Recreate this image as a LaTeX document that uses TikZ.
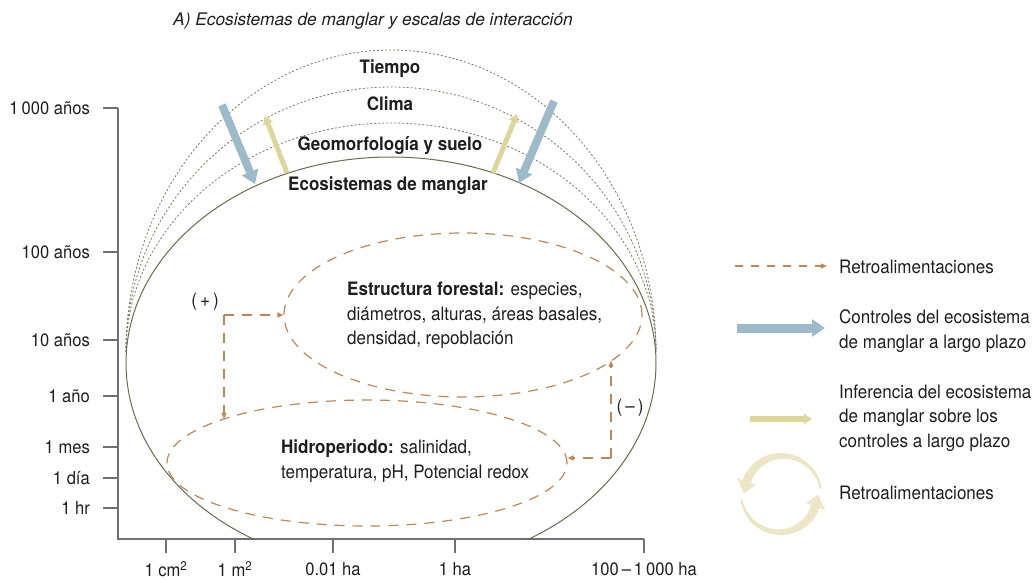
\documentclass[tikz,border=0pt]{standalone}
\usepackage{fontspec}
\setmainfont{TeX Gyre Heros}
\newfontfamily\cnd[FakeStretch=0.92]{TeX Gyre Heros}
\usetikzlibrary{arrows.meta,shapes.geometric}
\definecolor{axisgray}{HTML}{707070}
\definecolor{olivec}{HTML}{6B6B4E}
\definecolor{dotc}{HTML}{7A7A60}
\definecolor{dashbrown}{HTML}{B8895A}
\definecolor{ctrlblue}{HTML}{9CBAC8}
\definecolor{infkhaki}{HTML}{DDD69B}
\definecolor{iconcol}{HTML}{ECE6C6}
\definecolor{txt}{HTML}{1E1E1E}
\tikzset{
  lbl/.style={font=\cnd\fontsize{18.5}{24.5}\selectfont, text=txt, inner sep=0pt},
  bl/.style={font=\cnd\bfseries\fontsize{18.5}{24.5}\selectfont, text=txt, inner sep=0pt},
  axl/.style={font=\cnd\fontsize{18}{22}\selectfont, text=txt, inner sep=0pt},
  axisline/.style={draw=axisgray, line width=1.4pt},
  dotarc/.style={draw=dotc, line width=0.8pt, dash pattern=on 2pt off 2pt},
  fbell/.style={ellipse, draw=dashbrown, line width=1.2pt, dash pattern=on 10pt off 8pt, inner sep=0pt},
  fbarrow/.style={draw=dashbrown, line width=1.2pt, dash pattern=on 10pt off 8pt, -{Triangle[width=5pt,length=6pt]}},
  ctrl/.style={draw=ctrlblue, line width=8pt, -{Triangle[width=17pt,length=13pt]}},
  inf/.style={draw=infkhaki, line width=5pt, -{Triangle[width=10pt,length=8pt]}},
}
\begin{document}
\begin{tikzpicture}[x=1pt,y=-1pt]
\useasboundingbox (0,0) rectangle (1034,579);
% title
\node[font=\itshape\fontsize{17.3}{20}\selectfont, text=txt, inner sep=0pt] (title) at (373,21) {A) Ecosistemas de manglar y escalas de interacción};
% axes
\draw[axisline] (118,108) -- (118,539) -- (644,539);
\foreach \y/\t [count=\i] in {108/1\,000 años, 252/100 años, 340/10 años, 396/1 año, 447/1 mes, 478/1 día, 508/1 hr}{
  \draw[axisline] (103,\y) -- (118,\y);
  \node[axl, anchor=east] (ty\i) at (90,\y) {\t};
}
\foreach \x/\t [count=\i] in {166/1 cm\textsuperscript{2}, 235/1 m\textsuperscript{2}, 333/0.01 ha, 455/1 ha, 644/100\,–\,1\,000 ha}{
  \draw[axisline] (\x,539) -- (\x,553);
  \node[axl] (tx\i) at (\x,569) {\t};
}
% dotted arcs
\draw[dotarc] (126,352) arc[start angle=180, end angle=0, x radius=265pt, y radius=302pt];
\draw[dotarc] (126,352) arc[start angle=180, end angle=0, x radius=265pt, y radius=265pt];
\draw[dotarc] (126,352) arc[start angle=180, end angle=0, x radius=265pt, y radius=229pt];
% solid ellipse
\begin{scope}
\clip (0,0) rectangle (1034,539);
\draw[olivec, line width=1pt] (391,363) ellipse [x radius=265pt, y radius=206pt];
\end{scope}
% level labels
\node[bl] (tiempo) at (390,69) {Tiempo};
\node[bl] (clima) at (390,104) {Clima};
\node[bl] (geo) at (390,146) {Geomorfología y suelo};
\node[bl] (eco) at (388,186) {Ecosistemas de manglar};
% control / inference arrows
\coordinate (b1s) at (222,105); \coordinate (b1e) at (255,184);
\coordinate (b2s) at (554,101); \coordinate (b2e) at (519,183);
\coordinate (k1s) at (287,173); \coordinate (k1e) at (265,116);
\coordinate (k2s) at (493,173); \coordinate (k2e) at (517,114);
\draw[ctrl] (b1s) -- (b1e);
\draw[ctrl] (b2s) -- (b2e);
\draw[inf] (k1s) -- (k1e);
\draw[inf] (k2s) -- (k2e);
% feedback ellipses
\node[fbell, minimum width=358pt, minimum height=164pt] (forest) at (463,315) {};
\node[fbell, minimum width=400pt, minimum height=126pt] (hydro) at (367,463) {};
\node[lbl, anchor=west, align=left] (forestt) at (347,315.5) {\textbf{Estructura forestal:} especies,\\diámetros, alturas, áreas basales,\\densidad, repoblación};
\node[lbl, anchor=west, align=left] (hydrot) at (281,461) {\textbf{Hidroperiodo:} salinidad,\\temperatura, pH, Potencial redox};
% feedback connectors
\coordinate (pc) at (224,315);
\coordinate (mc) at (611,458);
\node[lbl] (plus) at (205,302) {(\,+\,)};
\node[lbl] (minus) at (630,408) {(\,–\,)};
\draw[fbarrow] (pc) -- (forest.west);
\draw[fbarrow] (pc) -- (pc |- hydro.163);
\draw[fbarrow] (mc) -- (hydro.east |- mc);
\draw[fbarrow] (mc) -- (mc |- forest.-17);
% legend
\coordinate (l1s) at (735,266); \coordinate (l1e) at (827,266);
\draw[draw=dashbrown, line width=1.2pt, dash pattern=on 8pt off 8pt, -{Triangle[width=5pt,length=6pt]}] (l1s) -- (l1e);
\node[lbl, anchor=west] (leg1) at (839,267) {Retroalimentaciones};
\coordinate (l2s) at (737,328); \coordinate (l2e) at (825,328);
\draw[ctrl, line width=9pt] (l2s) -- (l2e);
\node[lbl, anchor=west, align=left] (leg2) at (839,331) {Controles del ecosistema\\de manglar a largo plazo};
\coordinate (l3s) at (750,419); \coordinate (l3e) at (812,419);
\draw[inf, line width=6pt] (l3s) -- (l3e);
\node[lbl, anchor=west, align=left] (leg3) at (839,418) {Inferencia del ecosistema\\de manglar sobre los\\controles a largo plazo};
% circular icon
\fill[iconcol] plot[domain=8:160, samples=40] ({781+41*cos(\x)},{494-41*sin(\x)})
  -- ({781+47*cos(160)},{494-47*sin(160)}) -- ({781+37*cos(179)},{494-37*sin(179)})
  -- ({781+27*cos(160)},{494-27*sin(160)})
  -- plot[domain=160:8, samples=40] ({781+(39-7*(\x-8)/152)*cos(\x)},{494-(39-7*(\x-8)/152)*sin(\x)}) -- cycle;
\fill[iconcol] plot[domain=188:340, samples=40] ({781+41*cos(\x)},{494-41*sin(\x)})
  -- ({781+47*cos(340)},{494-47*sin(340)}) -- ({781+37*cos(359)},{494-37*sin(359)})
  -- ({781+27*cos(340)},{494-27*sin(340)})
  -- plot[domain=340:188, samples=40] ({781+(39-7*(\x-188)/152)*cos(\x)},{494-(39-7*(\x-188)/152)*sin(\x)}) -- cycle;
\node[lbl, anchor=west] (leg4) at (839,493) {Retroalimentaciones};
\end{tikzpicture}
\end{document}
